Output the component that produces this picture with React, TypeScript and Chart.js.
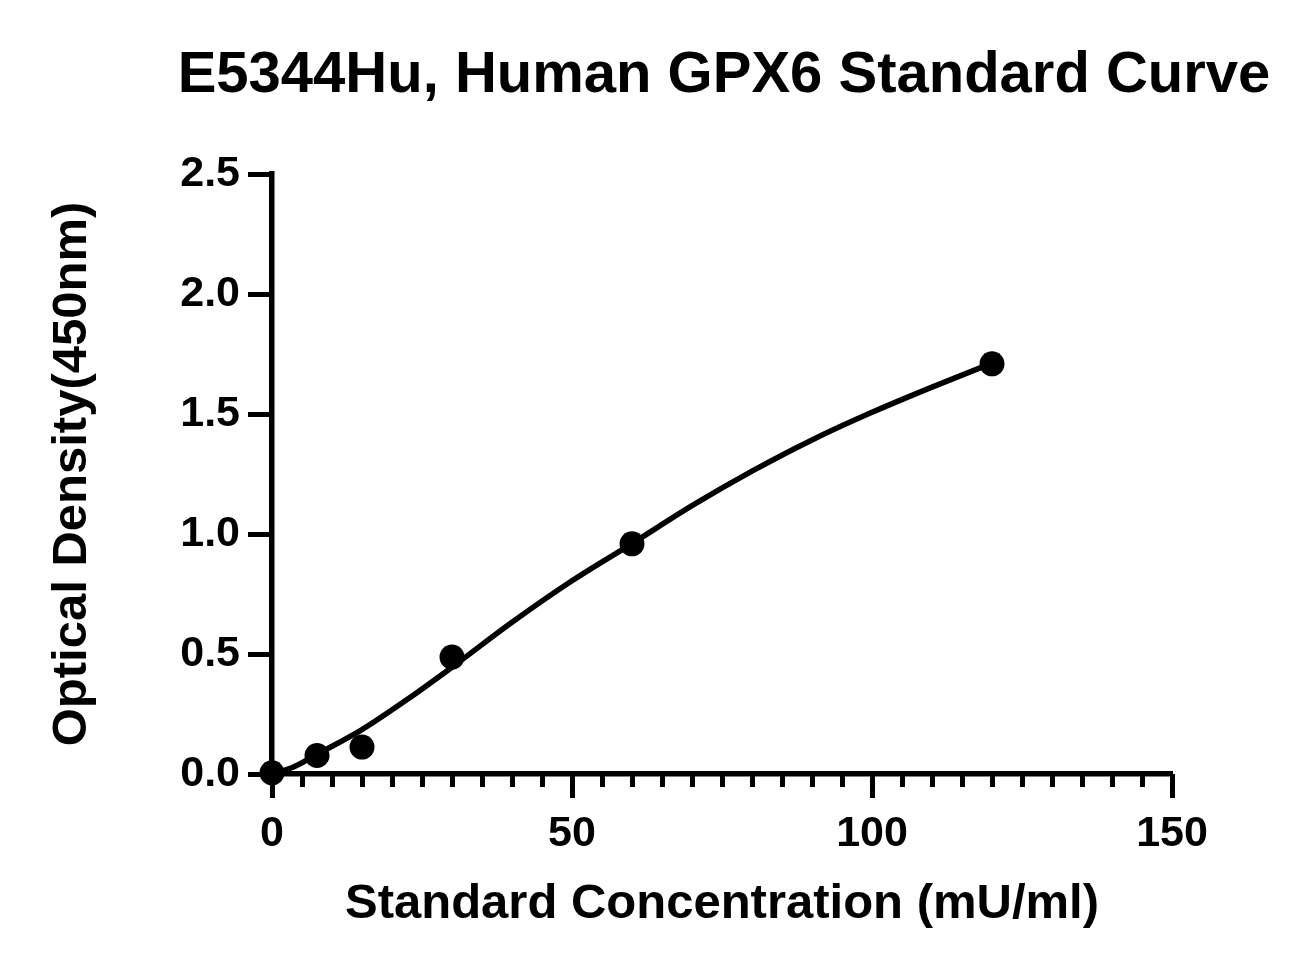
import React, { useEffect, useRef } from "react";
import { Chart, registerables } from "chart.js";

Chart.register(...registerables);

// Measured standards (concentration mU/ml, OD 450nm)
const standardConc = [0, 7.5, 15, 30, 60, 120];
const standardOD = [0.005, 0.077, 0.112, 0.487, 0.959, 1.709];

// Fitted curve
const curveConc = [0, 3.5, 7.5, 15, 22.5, 30, 40, 50, 60, 70, 80, 90, 100, 110, 120];
const curveOD = [0, 0.028, 0.082, 0.185, 0.31, 0.445, 0.632, 0.805, 0.96, 1.118, 1.262, 1.392, 1.507, 1.612, 1.712];

const titleText = "E5344Hu, Human GPX6 Standard Curve";
const xTitle = "Standard Concentration (mU/ml)";
const yTitle = "Optical Density(450nm)";

const FONT = "'Liberation Sans', Arial, Helvetica, sans-serif";

// Title drawn over the centre of the plot area, without width limit
const centeredTitle = {
  id: "centeredTitle",
  afterDraw(chart: any) {
    const { ctx, chartArea } = chart;
    ctx.save();
    ctx.fillStyle = "#000";
    ctx.font = `bold 58px ${FONT}`;
    ctx.textAlign = "center";
    ctx.textBaseline = "middle";
    ctx.fillText(titleText, (chartArea.left + chartArea.right) / 2 + 2, 76);
    ctx.restore();
  },
};

export default function App() {
  const ref = useRef<HTMLCanvasElement | null>(null);

  useEffect(() => {
    if (!ref.current) return;
    const chart = new Chart(ref.current, {
      type: "scatter",
      data: {
        datasets: [
          {
            type: "line",
            label: "fit",
            data: curveConc.map((x, i) => ({ x, y: curveOD[i] })),
            borderColor: "#000",
            borderWidth: 5.5,
            pointRadius: 0,
            fill: false,
            cubicInterpolationMode: "monotone",
            clip: false as any,
            xAxisID: "x",
            yAxisID: "y",
          },
          {
            type: "scatter",
            label: "standards",
            data: standardConc.map((x, i) => ({ x, y: standardOD[i] })),
            backgroundColor: "#000",
            borderColor: "#000",
            borderWidth: 0,
            pointRadius: 12.5,
            pointHoverRadius: 12.5,
            showLine: false,
            clip: false as any,
            xAxisID: "x",
            yAxisID: "y",
          },
        ],
      },
      plugins: [centeredTitle],
      options: {
        responsive: false,
        maintainAspectRatio: false,
        animation: false,
        devicePixelRatio: 1,
        events: [],
        layout: { padding: { left: 0, top: 174, right: 142, bottom: 0 } },
        plugins: {
          legend: { display: false },
          tooltip: { enabled: false },
          title: { display: false },
        },
        scales: {
          x: {
            type: "linear",
            position: "bottom",
            weight: 1,
            min: 0,
            max: 150,
            afterFit: (s: any) => {
              s.height = 201;
            },
            ticks: {
              stepSize: 50,
              color: "#000",
              padding: 10,
              maxRotation: 0,
              font: { family: FONT, size: 43, weight: "bold", lineHeight: 1.2 },
            },
            grid: {
              display: true,
              drawOnChartArea: false,
              drawTicks: true,
              tickLength: 24,
              tickWidth: 5,
              tickColor: "#000",
            },
            border: { display: true, color: "#000", width: 5.5 },
            title: {
              display: true,
              text: xTitle,
              color: "#000",
              font: { family: FONT, size: 49, weight: "bold", lineHeight: 1.2 },
              padding: { top: 0, bottom: 41.6 },
            },
          },
          xMinor: {
            type: "linear",
            position: "bottom",
            weight: 0,
            min: 0,
            max: 150,
            afterFit: (s: any) => {
              s.height = 0;
            },
            ticks: { display: false, stepSize: 5 },
            grid: {
              display: true,
              drawOnChartArea: false,
              drawTicks: true,
              tickLength: 13,
              tickWidth: 5,
              tickColor: "#000",
            },
            border: { display: false },
          },
          y: {
            type: "linear",
            position: "left",
            min: 0,
            max: 2.5,
            afterFit: (s: any) => {
              s.width = 272;
            },
            ticks: {
              stepSize: 0.5,
              color: "#000",
              padding: 8,
              callback: (v: any) => Number(v).toFixed(1),
              font: { family: FONT, size: 43, weight: "bold", lineHeight: 1.2 },
            },
            grid: {
              display: true,
              drawOnChartArea: false,
              drawTicks: true,
              tickLength: 24,
              tickWidth: 5,
              tickColor: "#000",
            },
            border: { display: true, color: "#000", width: 5.5 },
            title: {
              display: true,
              text: yTitle,
              color: "#000",
              font: { family: FONT, size: 49, weight: "bold", lineHeight: 1.2 },
              padding: { top: 43, bottom: 0 },
            },
          },
        },
      },
    });
    return () => chart.destroy();
  }, []);

  return (
    <div
      style={{
        position: "absolute",
        left: 0,
        top: 0,
        width: 1314,
        height: 975,
        background: "#fff",
      }}
    >
      <canvas ref={ref} width={1314} height={975} style={{ width: 1314, height: 975, display: "block" }} />
    </div>
  );
}
